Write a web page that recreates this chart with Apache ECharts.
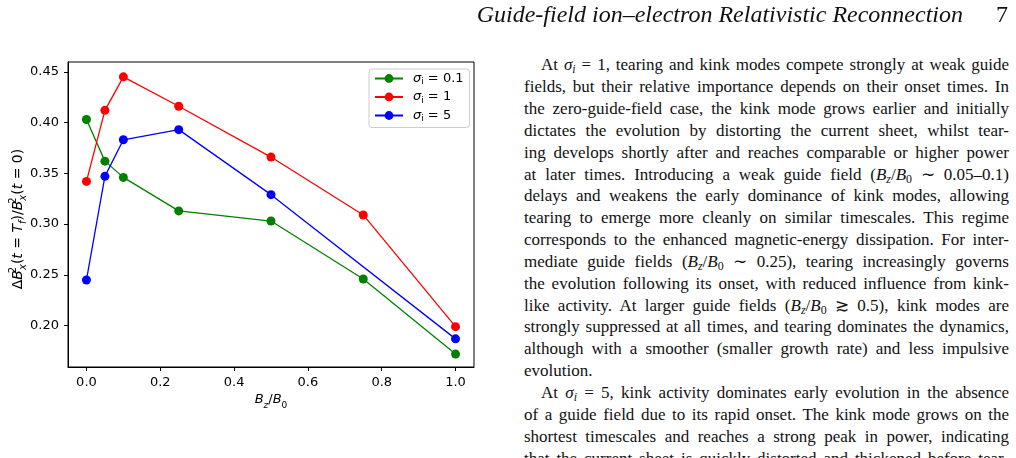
<!DOCTYPE html>
<html>
<head>
<meta charset="utf-8">
<script src="https://cdn.jsdelivr.net/npm/echarts@6/dist/echarts.min.js"></script>
<style>
html, body {
  margin: 0;
  padding: 0;
  width: 1016px;
  height: 458px;
  overflow: hidden;
  background: #fff;
}

#chart {
  position: absolute;
  left: 0;
  top: 0;
  width: 500px;
  height: 458px;
}

.page {
  font-family: "Liberation Serif", "Times New Roman", serif;
  color: #111;
}

.ln {
  position: absolute;
  white-space: nowrap;
  font-size: 17px;
  line-height: 20px;
}

.hdr {
  position: absolute;
  white-space: nowrap;
  font-size: 24px;
  line-height: 28px;
}

.s {
  font-size: 0.7em;
  vertical-align: -0.28em;
  line-height: 0;
}
</style>
</head>
<body>
<div id="chart"></div>
<div class="page" id="page"></div>

<script>
// data
const bzValues = [0, 0.05, 0.1, 0.25, 0.5, 0.75, 1.0]
const sigma01 = [0.403, 0.362, 0.346, 0.313, 0.303, 0.246, 0.172]
const sigma1 = [0.342, 0.412, 0.445, 0.416, 0.366, 0.309, 0.199]
const sigma5 = [0.245, 0.347, 0.383, 0.393, 0.329, null, 0.187]
const sigmaLabels = ['0.1', '1', '5']
const xTicks = [0, 0.2, 0.4, 0.6, 0.8, 1.0]
const yTicks = [0.20, 0.25, 0.30, 0.35, 0.40, 0.45]

const colors = ['#008000', '#ff0000', '#0000ff']
const seriesValues = [sigma01, sigma1, sigma5]

const toPairs = (vals) =>
  bzValues.map((x, i) => [x, vals[i]]).filter(p => p[1] != null)

const tickFont = { fontFamily: 'DejaVu Sans', fontSize: 13, color: '#000' }

// mathtext-like rich styles
const mathRich = (fs) => ({
  n: { fontFamily: 'DejaVu Sans', fontSize: fs, lineHeight: 20, color: '#000' },
  i: { fontFamily: 'DejaVu Sans', fontStyle: 'italic', fontSize: fs, lineHeight: 20, color: '#000' },
  sup: { fontFamily: 'DejaVu Sans', fontSize: Math.round(fs * 0.7), lineHeight: 9, verticalAlign: 'top', width: 0.01, color: '#000' },
  sub: { fontFamily: 'DejaVu Sans', fontStyle: 'italic', fontSize: Math.round(fs * 0.7), lineHeight: 9, verticalAlign: 'bottom', color: '#000' },
  subn: { fontFamily: 'DejaVu Sans', fontSize: Math.round(fs * 0.7), lineHeight: 9, verticalAlign: 'bottom', color: '#000' }
})

const chart = echarts.init(document.getElementById('chart'), null, { renderer: 'canvas' })

const option = {
  animation: false,
  backgroundColor: '#fff',
  grid: {
    left: 68,
    top: 62,
    width: 406,
    height: 305,
    show: true,
    borderColor: '#000',
    borderWidth: 1,
    backgroundColor: '#fff'
  },
  xAxis: {
    type: 'value',
    min: -0.05,
    max: 1.05,
    splitLine: { show: false },
    axisLine: { show: true, onZero: false, lineStyle: { color: '#000', width: 1 } },
    axisTick: { show: true, length: 4, lineStyle: { color: '#000', width: 1 }, customValues: xTicks },
    axisLabel: { ...tickFont, margin: 9, customValues: xTicks, formatter: v => v.toFixed(1) }
  },
  yAxis: {
    type: 'value',
    min: 0.1593,
    max: 0.4596,
    splitLine: { show: false },
    axisLine: { show: true, onZero: false, lineStyle: { color: '#000', width: 1 } },
    axisTick: { show: true, length: 4, lineStyle: { color: '#000', width: 1 }, customValues: yTicks },
    axisLabel: { ...tickFont, margin: 9, customValues: yTicks, formatter: v => v.toFixed(2) }
  },
  legend: {
    orient: 'vertical',
    left: 369,
    top: 69,
    padding: [3, 6, 4, 5],
    itemGap: 4,
    itemWidth: 28,
    itemHeight: 11,
    backgroundColor: 'rgba(255,255,255,0.8)',
    borderColor: '#cccccc',
    borderWidth: 1,
    borderRadius: 3,
    data: sigmaLabels.map(s => 'σi=' + s),
    formatter: name => '{g|σ}{sb|i}{t| = ' + name.split('=')[1] + '}',
    textStyle: {
      rich: {
        g: { fontFamily: 'DejaVu Sans', fontStyle: 'italic', fontSize: 13, lineHeight: 16, color: '#000', padding: [0, 0, 0, 5] },
        sb: { fontFamily: 'DejaVu Sans', fontSize: 9, lineHeight: 9, verticalAlign: 'bottom', color: '#000' },
        t: { fontFamily: 'DejaVu Sans', fontSize: 13, lineHeight: 16, color: '#000' }
      }
    }
  },
  graphic: [
    {
      type: 'text',
      x: 271,
      y: 400,
      style: {
        text: '{i|B}{sub|z}{n|/}{i|B}{subn|0}',
        rich: mathRich(13),
        align: 'center',
        verticalAlign: 'middle'
      }
    },
    {
      type: 'text',
      x: 18,
      y: 219,
      rotation: Math.PI / 2,
      style: {
        text: '{n|Δ}{i|B}{sup|2}{sub|x}{n|(}{i|t}{n| = }{i|T}{sub|f}{n|)/}{i|B}{sup|2}{sub|x}{n|(}{i|t}{n| = 0)}',
        rich: mathRich(14),
        align: 'center',
        verticalAlign: 'middle'
      }
    }
  ],
  series: seriesValues.map((vals, k) => ({
    name: 'σi=' + sigmaLabels[k],
    type: 'line',
    data: toPairs(vals),
    color: colors[k],
    symbol: 'circle',
    symbolSize: 9,
    showAllSymbol: true,
    lineStyle: { width: 1.3, color: colors[k] },
    itemStyle: { color: colors[k] },
    emphasis: { disabled: true }
  }))
}

chart.setOption(option)

// page text beside the figure
const B = (s, up) => '<i>B</i><span class="s">' + (up ? s : '<i>' + s + '</i>') + '</span>'
const sig = '<i>σ</i><span class="s"><i>i</i></span>'
const bzb0 = B('z') + '/' + B('0', true)

const textLines = [
  { html: 'At ' + sig + ' = 1, tearing and kink modes compete strongly at weak guide', indent: true },
  { html: 'fields, but their relative importance depends on their onset times. In' },
  { html: 'the zero-guide-field case, the kink mode grows earlier and initially' },
  { html: 'dictates the evolution by distorting the current sheet, whilst tear-' },
  { html: 'ing develops shortly after and reaches comparable or higher power' },
  { html: 'at later times. Introducing a weak guide field (' + bzb0 + ' ∼ 0.05–0.1)' },
  { html: 'delays and weakens the early dominance of kink modes, allowing' },
  { html: 'tearing to emerge more cleanly on similar timescales. This regime' },
  { html: 'corresponds to the enhanced magnetic-energy dissipation. For inter-' },
  { html: 'mediate guide fields (' + bzb0 + ' ∼ 0.25), tearing increasingly governs' },
  { html: 'the evolution following its onset, with reduced influence from kink-' },
  { html: 'like activity. At larger guide fields (' + bzb0 + ' ≳ 0.5), kink modes are' },
  { html: 'strongly suppressed at all times, and tearing dominates the dynamics,' },
  { html: 'although with a smoother (smaller growth rate) and less impulsive' },
  { html: 'evolution.', last: true },
  { html: 'At ' + sig + ' = 5, kink activity dominates early evolution in the absence', indent: true },
  { html: 'of a guide field due to its rapid onset. The kink mode grows on the' },
  { html: 'shortest timescales and reaches a strong peak in power, indicating' },
  { html: 'that the current sheet is quickly distorted and thickened before tear-' }
]

const page = document.getElementById('page')
const textLeft = 524
const textRight = 1009
const firstBaseline = 71
const pitch = 21.85
const fs = 17
const lh = 20
const baseOff = (lh - 1.107 * fs) / 2 + 0.891 * fs

textLines.forEach((ln, k) => {
  const d = document.createElement('div')
  d.className = 'ln'
  const left = ln.indent ? 541 : textLeft
  d.style.left = left + 'px'
  d.style.top = (firstBaseline + k * pitch - baseOff) + 'px'
  d.innerHTML = ln.html
  page.appendChild(d)
  if (!ln.last) {
    const target = textRight - left
    const nat = d.getBoundingClientRect().width
    const spaces = (d.textContent.match(/ /g) || []).length
    if (spaces > 0) d.style.wordSpacing = ((target - nat) / spaces) + 'px'
  }
})

// running head
const hdrTop = 22 - ((28 - 1.107 * 24) / 2 + 0.891 * 24)
const hdr = document.createElement('div')
hdr.className = 'hdr'
hdr.style.right = (1016 - 963) + 'px'
hdr.style.top = hdrTop + 'px'
hdr.innerHTML = '<i>Guide-field ion–electron Relativistic Reconnection</i>'
page.appendChild(hdr)

const num = document.createElement('div')
num.className = 'hdr'
num.style.right = (1016 - 1008) + 'px'
num.style.top = hdrTop + 'px'
num.textContent = '7'
page.appendChild(num)
</script>
</body>
</html>
